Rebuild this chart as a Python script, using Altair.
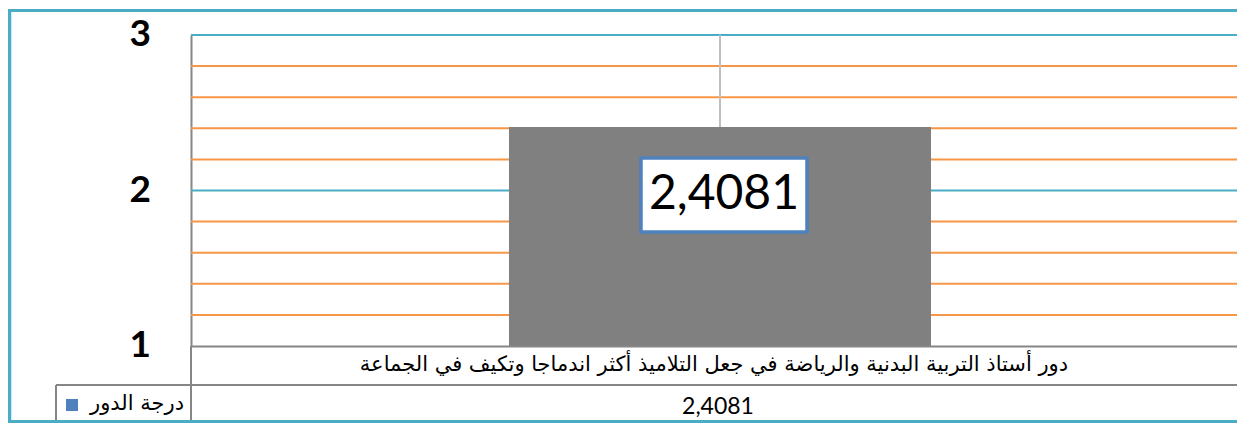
import altair as alt
import pandas as pd

# ---- data ----
categories = ["دور أستاذ التربية البدنية والرياضة في جعل التلاميذ أكثر اندماجا وتكيف في الجماعة"]
values = [2.4081]
value_labels = ["2,4081"]
series_name = ["درجة الدور"]
y_ticks = [1, 2, 3]
y_tick_labels = ["1", "2", "3"]
major_grid = [2, 3]
minor_grid = [1.2, 1.4, 1.6, 1.8, 2.2, 2.4, 2.6, 2.8]
y_min, y_max = 1, 3

df = pd.DataFrame({"category": categories, "value": values, "label": value_labels})

W, H = 1046, 311
TEAL = "#4BACC6"
ORANGE = "#F79646"
GRAY = "#868686"
BLUE = "#4F81BD"

x_scale = alt.Scale(domain=categories, paddingInner=0, paddingOuter=0.7393, align=0.5096)
y_scale = alt.Scale(domain=[y_min, y_max], zero=False, nice=False)

x_axis = alt.Axis(orient="bottom", grid=False, labels=False, ticks=False, domain=True,
                  domainColor=GRAY, domainWidth=2, title=None, zindex=1)
y_axis = alt.Axis(values=y_ticks, grid=False, ticks=False, domain=True, domainColor=GRAY,
                  domainWidth=2, labels=False, title=None)


def X():
    return alt.X("category:N", scale=x_scale, axis=x_axis, title=None)


def Y(field):
    return alt.Y(field, type="quantitative", scale=y_scale, axis=y_axis, title=None)


base = alt.Chart(df)

minor = alt.Chart(pd.DataFrame({"v": minor_grid})).mark_rule(color=ORANGE, strokeWidth=2).encode(y=Y("v"))
major = alt.Chart(pd.DataFrame({"v": major_grid})).mark_rule(color=TEAL, strokeWidth=2).encode(y=Y("v"))
vgrid = base.mark_rule(color="#BFBFBF", strokeWidth=2).encode(x=X(), y=alt.value(0), y2=alt.value(H))

bar = base.mark_bar(color="#808080").encode(x=X(), y=Y("value"), y2=alt.datum(y_min))

# y tick labels (bold, large), placed through the y scale
ylab = alt.Chart(pd.DataFrame({"t": y_ticks, "s": y_tick_labels})).mark_text(
    font="Lato", fontWeight="bold", fontSize=37, color="black", align="right", baseline="middle"
).encode(y=Y("t"), x=alt.value(-40), text="s:N")

box_path = "M-1,-0.4458L1,-0.4458L1,0.4458L-1,0.4458Z"
box = base.mark_point(shape=box_path, size=166 * 166, filled=True, fill="white", stroke=BLUE,
                      strokeWidth=3.5, opacity=1, xOffset=4, yOffset=68).encode(x=X(), y=Y("value"))
box_text = base.mark_text(font="Lato", fontSize=48, color="black", dx=4, dy=68,
                          baseline="middle", align="center").encode(x=X(), y=Y("value"), text="label:N")

cat_text = base.mark_text(font="DejaVu Sans", fontSize=21, color="black", dx=-6,
                          baseline="middle", align="center").encode(x=X(), y=alt.value(330), text="category:N")
val_text = base.mark_text(font="Lato", fontSize=23, color="black", dx=-2,
                          baseline="middle", align="center").encode(x=X(), y=alt.value(372), text="label:N")

leg_df = pd.DataFrame({"s": series_name})
leg_text = alt.Chart(leg_df).mark_text(font="DejaVu Sans", fontSize=21, color="black", align="right",
                                       baseline="middle").encode(x=alt.value(-7), y=alt.value(369), text="s:N")
leg_sq = alt.Chart(leg_df).mark_square(size=144, color=BLUE, opacity=1).encode(
    x=alt.value(-119), y=alt.value(370))


# table and frame lines (decoration)
def rule(color, width, **enc):
    return alt.Chart(leg_df).mark_rule(color=color, strokeWidth=width).encode(**enc)


row_line = rule(GRAY, 2, x=alt.value(-135), x2=alt.value(W), y=alt.value(350))
cell_left = rule(GRAY, 2, x=alt.value(-135), y=alt.value(350), y2=alt.value(386))
axis_ext = rule(GRAY, 2, x=alt.value(0), y=alt.value(H), y2=alt.value(386))
frame_left = rule(TEAL, 3.5, x=alt.value(-181.5), y=alt.value(-25), y2=alt.value(387))
frame_top = rule(TEAL, 3, x=alt.value(-183), x2=alt.value(W), y=alt.value(-24.5))
frame_bot = rule(TEAL, 3, x=alt.value(-183), x2=alt.value(W), y=alt.value(386.5))

chart = alt.layer(
    minor, major, vgrid, bar, ylab, box, box_text, cat_text, val_text,
    row_line, cell_left, axis_ext, leg_sq, leg_text, frame_left, frame_top, frame_bot
).properties(
    width=W, height=H,
    autosize=alt.AutoSizeParams(type="none"),
    padding={"left": 183, "top": 27, "right": 0, "bottom": 78},
    background="white",
).configure_view(stroke=None)

chart.save("out.html", embed_options={"renderer": "svg", "actions": False})
